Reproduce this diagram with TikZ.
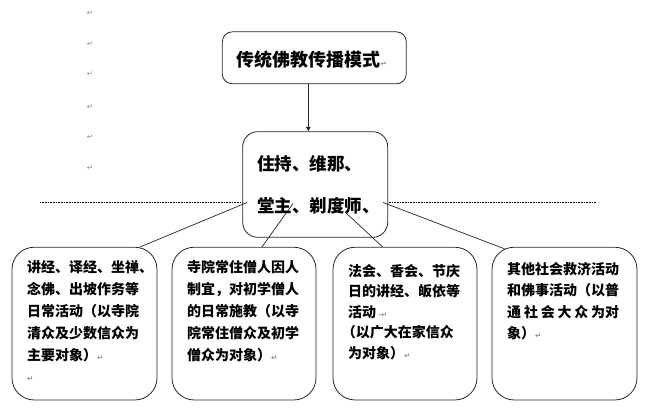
\documentclass[tikz,border=0pt]{standalone}
\usepackage{fontspec}
\newfontfamily\cjk{Noto Sans CJK SC}
\newfontfamily\sym{DejaVu Sans}
\usetikzlibrary{arrows.meta,calc}
\newcommand{\pmark}{{\sym\fontsize{7.5}{7.5}\selectfont\color{black!45}↵}}
\begin{document}
\begin{tikzpicture}[x=1pt,y=-1pt,
  box/.style={draw=black!85, line width=0.8pt, fill=white, inner sep=0pt},
  txt/.style={inner sep=0pt, align=left, anchor=base west},
  small/.style={txt, font=\cjk\bfseries\fontsize{14}{21.8}\selectfont},
  ln/.style={draw=black!85, line width=0.7pt},
  pm/.style={inner sep=0pt, font=\sym\fontsize{7.5}{7.5}\selectfont, text=black!45}]
\useasboundingbox (0,0) rectangle (666,407);
% dotted guide line
\coordinate (d1) at (40,202.3);
\coordinate (d2) at (596,202.3);
\draw[dash pattern=on 0.8pt off 0.8pt, line width=0.7pt] (d1) -- (d2);
% paragraph marks at left
\foreach \i/\y in {1/13.5,2/43.7,3/73.7,4/107,5/137,6/168}
  \node[pm] (p\i) at (90,\y) {↵};
% boxes
\node[box, rounded corners=10pt, minimum width=184pt, minimum height=52pt] (top) at (314.3,57.8) {};
\node[box, rounded corners=15pt, minimum width=145pt, minimum height=105.6pt] (mid) at (315.2,184.5) {};
\node[box, rounded corners=22pt, minimum width=145pt, minimum height=152.7pt] (b1) at (84.5,323.6) {};
\node[box, rounded corners=22pt, minimum width=144pt, minimum height=152.7pt] (b2) at (244,323.6) {};
\node[box, rounded corners=22pt, minimum width=144pt, minimum height=152.7pt] (b3) at (405,323.6) {};
\node[box, rounded corners=22pt, minimum width=145pt, minimum height=152.7pt] (b4) at (564.5,323.6) {};
% arrow
\coordinate (ax) at (308.3,0);
\draw[ln, -{Triangle[length=4.5pt,width=4.5pt]}] (top.south -| ax) -- (mid.north -| ax);
% connectors
\coordinate (s1) at (247,202.5);
\coordinate (s2) at (293,203.5);
\coordinate (s3) at (345,212);
\coordinate (s4) at (383,202.5);
\draw[ln] (s1) -- ($(b1.north east)+(-17,0)$);
\draw[ln] (s2) -- ($(b2.north)+(18,0)$);
\draw[ln] (s3) -- ($(b3.north west)+(50,0)$);
\draw[ln] (s4) -- ($(b4.north west)+(13,2)$);
% texts (anchor = baseline of the last line)
\node[txt, font=\cjk\bfseries\fontsize{18}{18}\selectfont] (t0) at (236.5,66) {传统佛教传播模式\pmark};
\node[txt, font=\cjk\bfseries\fontsize{17.5}{42.3}\selectfont] (tm) at (257,212.3) {住持、维那、\\堂主、剃度师、};
\node[small] (t1) at (27,381.8) {讲经、译经、坐禅、\\念佛、出坡作务等\\日常活动（以寺院\\清众及少数信众为\\主要对象）\pmark\\\pmark};
\node[small] (t2) at (187,360) {寺院常住僧人因人\\制宜，对初学僧人\\的日常施教（以寺\\院常住僧众及初学\\僧众为对象）\pmark};
\node[small, font=\cjk\bfseries\fontsize{14}{20.6}\selectfont] (t3) at (348,358.4) {法会、香会、节庆\\日的讲经、皈依等\\活动\,{\sym\fontsize{7}{7}\selectfont\color{black!45}·}\pmark\\\hspace*{-0.45em}（以广大在家信众\\为对象）\pmark};
\node[small, font=\cjk\bfseries\fontsize{14}{21.3}\selectfont] (t4) at (507,338.4) {其他社会救济活动\\和佛事活动（以普\\\makebox[8em][s]{通\hfill 社\hfill 会\hfill 大\hfill 众\hfill 为对}\\象）\pmark};
\end{tikzpicture}
\end{document}
